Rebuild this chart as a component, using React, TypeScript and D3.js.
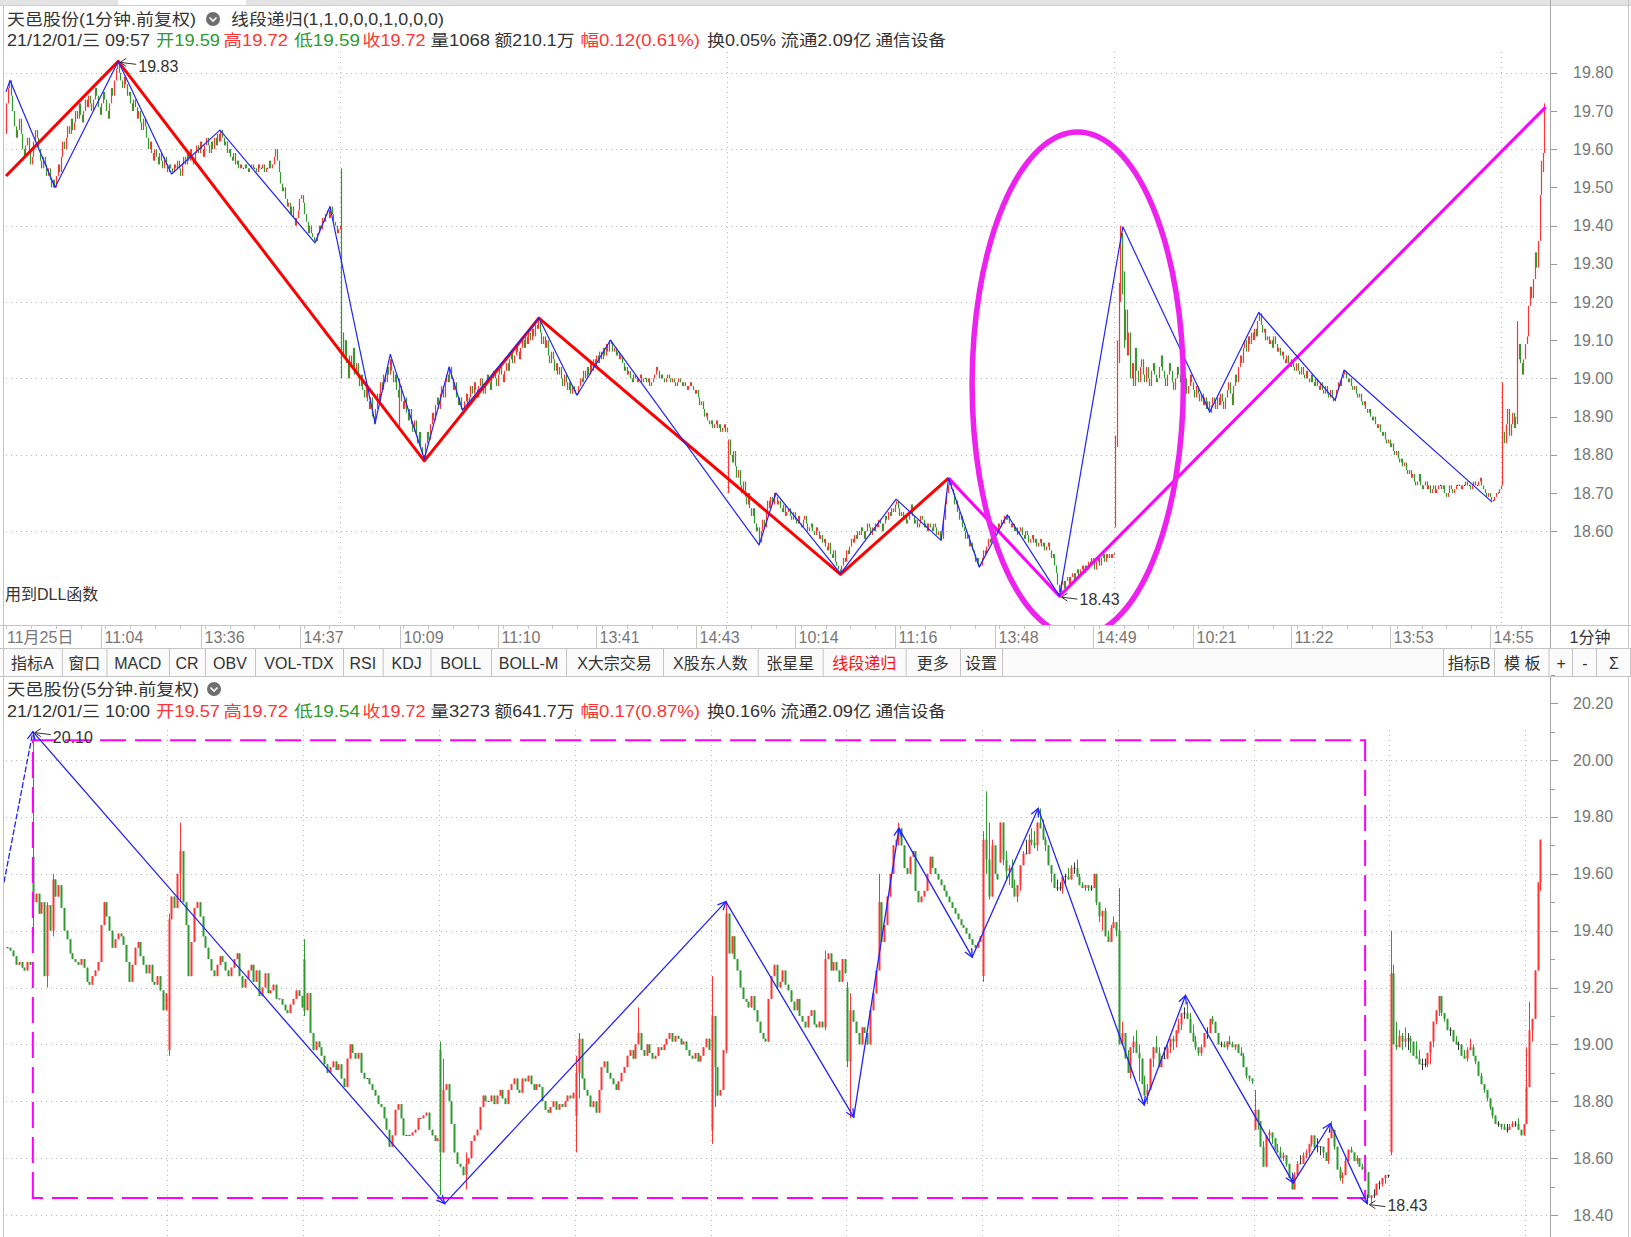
import React from 'react';
import * as d3 from 'd3';

// ===== 1-minute chart (top): closes in cents above 18.00 =====
const PRICE_BASE = 18.0;
// 11/25 from 10:03
const m1Day1 = [172,176,178,
174,170,166,163,165,168,164,160,158,161,163,159,156,158,162,165,163,160,157,155,158,156,153,155,152,150,152,150,
153,156,154,158,162,160,163,166,164,168,165,167,170,168,172,169,167,170,173,171,174,172,170,173,176,174,171,169,172,175,173,170,168,172,176,174,178,181,183,
180,178,176,179,177,174,175,172,170,173,171,168,170,167,165,168,166,163,160,162,159,157,160,158,156,159,157,155,158,156,154,156,155,154,
156,155,157,155,153,156,158,156,159,157,160,158,156,159,161,159,162,160,158,161,163,161,159,162,160,163,161,164,162,165,
163,161,162,159,160,158,157,159,156,157,155,156,155,155,156,155,154,155,156,155,155,154,156,155,155,156,154,155,155,157,155,156,158,160,157,
154,151,149,150,147,145,146,143,145,142,140,142,144,147,148,146,143,141,138,140,138,137,136,136,
138,140,139,142,141,143,144,142,145,143,141,140,138,139,140];
// 11/26
const m1Day2 = [112,106,110,104,100,106,103,108,101,104,100,98,101,97,95,98,94,92,95,90,88,
92,96,94,99,97,101,99,103,101,105,
102,99,101,97,95,98,94,92,95,91,89,92,88,86,89,85,83,86,82,80,79,
83,86,84,88,91,89,93,95,92,96,98,95,99,101,99,103,
100,97,99,95,93,95,92,92,
94,96,93,95,98,96,99,97,95,98,100,98,96,99,101,99,97,100,102,100,98,101,103,101,99,102,104,102,105,107,104,106,109,107,105,108,110,108,111,109,112,110,113,111,114,113,115,
112,109,111,108,110,106,104,107,105,102,104,101,103,100,98,101,99,97,99,96,98,97,96,96,
98,100,99,102,100,103,101,104,102,105,103,106,104,107,105,108,106,109,107,110,109,
107,108,106,107,105,106,104,102,103,101,102,100,99,101,100,99,100,101,99,100,100,99,100,98,99,100,101,103,102,100,101,100,99,100,101,100,99,100,99,98,99,100,99,98,99,98,97,98,99,98,97,96,97,95,93,94,92,90,91,89,88,89,87,88,89,87,88,86,87,88,86,87];
// 11/29
const m1Day3 = [84,80,78,81,77,74,76,72,70,73,69,67,70,66,64,66,62,60,61,57,
60,63,61,65,68,66,69,67,70,69,
67,68,66,65,67,64,65,66,64,63,65,63,62,64,62,61,63,64,62,60,61,62,60,59,61,60,58,59,57,58,56,55,57,54,53,55,52,51,50,49,
51,53,52,55,54,56,58,57,59,58,60,59,61,60,58,60,62,61,59,61,60,62,61,63,62,60,62,64,63,65,64,66,65,67,68,
66,64,65,63,64,62,63,65,67,64,62,63,61,62,64,63,61,62,60,62,61,60,62,61,59,60,58,58,
63,67,70,72,73,
71,70,67,68,65,63,64,61,60,58,59,56,57,55,54,52,53,51,51,
53,55,54,56,58,57,60,59,61,60,62,61,63,62,64,63,64,
62,61,62,60,61,59,60,61,59,58,60,59,57,58,59,57,58,56,57,58,56,57,55,56,57,55,53,54,51,49,46,44,
46,47,45,47,48,46,48,49,47,49,50,48,50,51,49,51,50,52,51,53,52,50,52,53,51,53,54,52,54,53,54,53,54,54];
// 11/30
const m1Day4 = [84,106,122,135,125,110,
118,106,112,100,104,98,108,102,99,103,
105,101,99,103,100,98,102,104,101,99,100,103,106,102,100,98,101,104,102,99,97,100,103,101,99,97,98,100,96,98,101,99,97,95,98,96,94,96,93,95,92,94,91,
93,95,94,92,95,93,96,94,92,95,97,99,96,93,98,101,99,103,106,104,108,110,107,111,109,112,110,113,111,115,117,
114,112,113,110,111,109,110,108,111,109,107,108,106,107,105,104,106,104,103,105,103,102,104,102,101,103,101,100,102,100,99,101,99,98,100,98,97,99,97,96,98,96,95,97,95,94,95,
97,99,98,100,101,102,
100,99,100,98,97,98,96,95,96,94,93,94,92,91,92,90,89,90,88,87,88,86,85,86,84,83,84,82,83,81,80,81,79,78,79,77,78,76,75,76,74,75,73,72,73,75,72,71,72,73,71,72,70,71,72,70,71,72,72,71,72,70,69,70,72,71,70,71,72,72,72,71,72,72,73,72,72,71,72,73,72,72,73,74,72,71,70,69,70,69,68,68,
69,70,70,71,72];
// 12/01 09:31-09:57
const m1Day5 = [86,83,88,92,85,88,91,87,90,105,109,104,101,105,109,111,119,124,121,126,133,129,136,148,157,159,172];
const m1FirstOpen = 164;
const m1Opens: [number, number][] = [[480, 70], [720, 62]];
const m1Wicks: [number, number, number][] = [[240,155,100],[276,100,87],[720,85,61],[721,110,82],[722,125,104],[723,140,120],[724,138,122],[725,128,108],[960,99,72],[969,115,88],[985,159,154]];

// ===== 5-minute chart (bottom): closes in cents above 18.00 =====
const m5Pre = [134,133,131,128,129,127,126,129,128];
const m5Nov16 = [150,153,146,150,124,149,140,158,152,156,148,140,137,132,130,129,128,130,127,122,121,124,126,129,142,150,145,140,134,137,139,138,135,129,122,128,134,136,131,128,125,128,122,121,124,119,112,118];
const m5Nov17 = [144,152,148,160,168,150,142,124,136,148,150,145,138,134,130,126,124,128,131,129,126,124,127,130,132,124,120,123,126,128,122,126,117,120,125,118,119,121,116,116,114,112,111,114,116,119,117,113];
const m5Nov18 = [112,118,104,98,101,99,96,93,90,92,94,91,93,88,85,95,100,97,95,97,90,88,88,86,84,82,79,78,74,70,64,68,77,79,74,68,68,68,69,70,74,74,75,76,70,68,66,67];
const m5Nov19 = [62,84,86,80,72,62,58,57,54,58,60,66,68,70,78,82,80,80,82,79,82,84,81,79,84,86,88,84,83,88,87,89,86,84,86,85,80,77,76,78,80,77,79,78,80,82,81,83];
const m5Nov22 = [90,102,88,84,82,78,80,76,84,92,94,90,88,86,84,87,90,92,96,98,95,100,104,98,96,100,97,95,96,99,98,100,102,104,101,103,102,100,101,98,96,95,97,94,96,99,102,98];
const m5Nov23 = [110,92,82,84,98,146,132,138,130,126,120,116,115,113,117,112,108,104,102,101,116,124,128,120,122,126,121,119,115,112,116,110,108,106,110,112,107,106,108,106,130,132,126,129,126,122,130,125];
const m5Nov24 = [94,112,108,104,100,106,104,100,112,118,126,150,136,142,152,160,170,172,176,170,162,160,166,168,154,150,152,154,160,166,162,160,158,156,154,152,150,148,146,144,142,141,139,137,135,134,136,138];
const m5Nov25Open = [172,165,152,170,160,158];
const m5Opens: [number, number][] = [[0,166],[48,98],[96,130],[144,98],[192,75],[240,70],[288,120],[336,124]];
const m5Wicks: [number, number, number][] = [[0,210,138],[5,150,120],[7,160,138],[48,146,96],[52,178,150],[96,137,110],[144,101,47],[145,95,70],[153,62,49],[192,96,62],[193,104,81],[214,113,100],[240,124,65],[241,110,78],[245,150,97],[280,133,105],[288,122,92],[289,118,74],[299,160,126],[306,178,170],[336,175,122],[337,189,160],[338,178,151],[339,172,152]];

// ===== zigzag indicator lines (bar index, cents) =====
const blueTop: [number, number][] = [[32,175],[34.5,178],[62.4,150],[101.6,183],[134.7,153.5],[164.7,165],[223.6,135.5],[232.9,145],[260.9,88.3],[270.3,106.3],[291.4,78.9],[306.8,103],[315,91.7],[362.5,115.8],[386.1,95.6],[406.8,110],[499,56.4],[509.4,70],[549.5,48.9],[584,68.4],[611.9,57.6],[616.5,73.9],[635.5,50.6],[652.9,64.3],[685.3,43],[724.6,139.7],[778.5,91.2],[808.9,117.3],[856.2,94.3],[861.8,102.2],[953.6,67.6]];
const redTop: [number, number][] = [[32,153],[101.6,183],[291.4,78.4],[362.5,115.8],[549.5,48.7],[616.5,73.9]];
const magentaTop: [number, number][] = [[616.5,73.9],[685.3,43],[986.8,171]];
const blueBottom: [number, number][] = [[-10.2,157],[0,210],[145.6,44],[245,150.2],[290.2,74.4],[306.2,176],[332.1,130.7],[355.4,183],[392.9,78.7],[407.5,117.2],[445.6,51.3],[458.7,72.1],[471.8,44]];
const boxBottom = { b0: 0, b1: 471, hi: 207, lo: 46 };
const ellipseTop = { g: 696.6, p: 98.5, halfBars: 65.5, halfCents: 66 };

const topTicks = [60,70,80,90,100,110,120,130,140,150,160,170,180];
const bottomTicks = [40,60,80,100,120,140,160,180,200,220];
const xLabelText = ['11:04','13:36','14:37','10:09','11:10','13:41','14:43','10:14','11:16','13:48','14:49','10:21','11:22','13:53','14:55'];
const xLabelBars = [93,155,216,278,339,400,462,523,585,647,708,770,831,892,954];
const toolLeft = ['指标A','窗口','MACD','CR','OBV','VOL-TDX','RSI','KDJ','BOLL','BOLL-M','X大宗交易','X股东人数','张星星','线段递归','更多','设置'];
const toolRight = ['指标B','模 板','+','-','Σ'];

type Bar = { i: number; o: number; h: number; l: number; c: number };

function buildBars(segs: [number, number[]][], firstOpen: number, opens: [number, number][], wicks: [number, number, number][]): Bar[] {
  const om = new Map(opens);
  const wm = new Map(wicks.map(w => [w[0], [w[1], w[2]]] as [number, number[]]));
  const out: Bar[] = [];
  let prev = firstOpen;
  for (const [start, arr] of segs) {
    arr.forEach((c, k) => {
      const i = start + k;
      const o = om.has(i) ? (om.get(i) as number) : prev;
      let h = Math.max(o, c), l = Math.min(o, c);
      const w = wm.get(i);
      if (w) { h = Math.max(h, w[0]); l = Math.min(l, w[1]); }
      out.push({ i, o, h, l, c });
      prev = c;
    });
  }
  return out;
}

const RED = '#ff3535';
const GREEN = '#2f9a2f';
const DOJI = '#333333';
const FONT = "'Liberation Sans', Arial, 'Noto Sans CJK SC', sans-serif";

export default function App() {
  const m1 = buildBars([[240 - m1Day1.length, m1Day1], [240, m1Day2], [480, m1Day3], [720, m1Day4], [960, m1Day5]], m1FirstOpen, m1Opens, m1Wicks);
  const m5a = buildBars([[-m5Pre.length, m5Pre], [0, m5Nov16], [48, m5Nov17], [96, m5Nov18], [144, m5Nov19], [192, m5Nov22], [240, m5Nov23], [288, m5Nov24], [336, m5Nov25Open]], 134, m5Opens, m5Wicks);
  // 5-minute bars from 11/25 10:05 onward are the 1-minute bars grouped by 5 minutes
  const groups = d3.groups(m1, b => 336 + Math.floor(b.i / 240) * 48 + Math.floor((b.i % 240) / 5));
  const m5b: Bar[] = groups.filter(([k]) => k >= 342).map(([k, bs]) => ({
    i: k, o: bs[0].o, c: bs[bs.length - 1].c,
    h: d3.max(bs, b => b.h) as number, l: d3.min(bs, b => b.l) as number,
  }));
  const m5 = [...m5a, ...m5b];

  const xT = d3.scaleLinear().domain([32, 987]).range([6, 1546]);
  const yT = d3.scaleLinear().domain([60, 180]).range([531.2, 72.8]);
  const xB = d3.scaleLinear().domain([0, 528]).range([32.85, 1526.35]);
  const yB = d3.scaleLinear().domain([40, 220]).range([1215, 703.2]);

  const lineT = d3.line<[number, number]>().x(d => xT(d[0])).y(d => yT(d[1]));
  const lineB = d3.line<[number, number]>().x(d => xB(d[0])).y(d => yB(d[1]));
  const col = (b: Bar) => (b.c > b.o ? RED : b.c < b.o ? GREEN : DOJI);
  const fmt = (c: number) => (PRICE_BASE + c / 100).toFixed(2);

  const arrowHeads = blueBottom.slice(1).map((p, k) => {
    const q = blueBottom[k];
    const x1 = xB(q[0]), y1 = yB(q[1]), x2 = xB(p[0]), y2 = yB(p[1]);
    const a = Math.atan2(y2 - y1, x2 - x1);
    const L = 9, s = 0.45;
    return `M${x2 - L * Math.cos(a - s)},${y2 - L * Math.sin(a - s)}L${x2},${y2}L${x2 - L * Math.cos(a + s)},${y2 - L * Math.sin(a + s)}`;
  });

  const pk = { x: xT(101.6), y: yT(183) };
  const lowT = { x: xT(685.3), y: yT(43) };
  const pkB = { x: xB(0), y: yB(210) };
  const lowB = { x: xB(471.8), y: yB(44) };
  const labelArrow = (x: number, y: number) => `M${x + 2},${y + 1}L${x + 18},${y + 3}M${x + 2},${y + 1}L${x + 8},${y - 3}M${x + 2},${y + 1}L${x + 8},${y + 5}`;

  const topSeps = [61.9, 106.5, 169, 205, 255, 343, 382.7, 430.5, 491, 566, 663, 757.7, 822.7, 905.6, 960, 1002];
  const rightSeps = [1443, 1495, 1549.5, 1573, 1597, 1631];
  const hdrX = [7, 156, 223.5, 294, 362.5, 430.5, 494.5, 580.5, 707, 780.5, 875.5];
  const hdrW = [143, 64, 64.5, 66, 63, 59.5, 80, 119.5, 69, 91, 70.5];
  const hdr2Top = [
    { t: '21/12/01/三 09:57', c: '#333' }, { t: '开19.59', c: GREEN }, { t: '高19.72', c: RED },
    { t: '低19.59', c: GREEN }, { t: '收19.72', c: RED }, { t: '量1068', c: '#333' },
    { t: '额210.1万', c: '#333' }, { t: '幅0.12(0.61%)', c: RED }, { t: '换0.05%', c: '#333' },
    { t: '流通2.09亿', c: '#333' }, { t: '通信设备', c: '#333' },
  ];
  const hdr2Bot = [
    { t: '21/12/01/三 10:00', c: '#333' }, { t: '开19.57', c: RED }, { t: '高19.72', c: RED },
    { t: '低19.54', c: GREEN }, { t: '收19.72', c: RED }, { t: '量3273', c: '#333' },
    { t: '额641.7万', c: '#333' }, { t: '幅0.17(0.87%)', c: RED }, { t: '换0.16%', c: '#333' },
    { t: '流通2.09亿', c: '#333' }, { t: '通信设备', c: '#333' },
  ];

  const circleIcon = (cx: number, cy: number) => (
    <g>
      <circle cx={cx} cy={cy} r={7} fill="#6e6e6e" />
      <path d={`M${cx - 3.5},${cy - 1.5}L${cx},${cy + 2}L${cx + 3.5},${cy - 1.5}`} stroke="#fff" strokeWidth={1.6} fill="none" />
    </g>
  );
  const hdrLine = (items: { t: string; c: string }[], y: number) => items.map((d, k) => (
    <text key={k} x={hdrX[k]} y={y} fontSize={16} fill={d.c} dominantBaseline="central" textLength={hdrW[k]} lengthAdjust="spacingAndGlyphs">{d.t}</text>
  ));

  return (
    <svg width={1631} height={1237} style={{ position: 'absolute', left: 0, top: 0, background: '#fff' }} fontFamily={FONT}>
      <defs>
        <clipPath id="clipTop"><rect x={4} y={50} width={1545} height={575} /></clipPath>
        <clipPath id="clipBot"><rect x={4} y={697} width={1545} height={540} /></clipPath>
      </defs>
      <rect width={1631} height={1237} fill="#fff" />
      {/* tab strip */}
      <rect x={0} y={0} width={1631} height={5} fill="#e3e3e3" />
      <rect x={118} y={0} width={128} height={5} fill="#fff" />
      <line x1={0} y1={5.5} x2={1631} y2={5.5} stroke="#d0d0d0" />

      {/* headers top */}
      <text x={7} y={19} fontSize={16} fill="#333" dominantBaseline="central" textLength={189} lengthAdjust="spacingAndGlyphs">天邑股份(1分钟.前复权)</text>
      {circleIcon(213, 19)}
      <text x={231} y={19} fontSize={16} fill="#333" dominantBaseline="central" textLength={213} lengthAdjust="spacingAndGlyphs">线段递归(1,1,0,0,0,1,0,0,0)</text>
      {hdrLine(hdr2Top, 40.5)}

      {/* top grid */}
      {[60, 80, 100, 120, 140, 160, 180].map(v => (
        <line key={v} x1={6} x2={1548} y1={Math.round(yT(v)) + 0.5} y2={Math.round(yT(v)) + 0.5} stroke="#b8b8b8" strokeDasharray="1 4" />
      ))}
      {[240, 480, 720, 960].map(g => (
        <line key={g} x1={Math.round(xT(g - 0.6)) + 0.5} x2={Math.round(xT(g - 0.6)) + 0.5} y1={52} y2={624} stroke="#b8b8b8" strokeDasharray="1 4" />
      ))}

      {/* top candles */}
      <g clipPath="url(#clipTop)">
        {m1.map(b => {
          const x = Math.round(xT(b.i)) + 0.5;
          const y1 = yT(b.h), y2 = yT(b.l);
          return <line key={b.i} x1={x} x2={x} y1={y1 - (y2 - y1 < 1 ? 0.6 : 0)} y2={y2 + (y2 - y1 < 1 ? 0.6 : 0)} stroke={col(b)} strokeWidth={1.2} />;
        })}
        <path d={lineT(redTop) as string} fill="none" stroke="#ff0000" strokeWidth={3} strokeLinejoin="round" />
        <path d={lineT(magentaTop) as string} fill="none" stroke="#ff00ff" strokeWidth={3} strokeLinejoin="round" />
        <path d={lineT(blueTop) as string} fill="none" stroke="#2222ff" strokeWidth={1.2} strokeLinejoin="round" />
        <ellipse cx={xT(ellipseTop.g)} cy={yT(ellipseTop.p)} rx={xT(ellipseTop.g + ellipseTop.halfBars) - xT(ellipseTop.g)} ry={yT(ellipseTop.p - ellipseTop.halfCents) - yT(ellipseTop.p)} fill="none" stroke="#ee22ee" strokeWidth={5.5} />
      </g>
      <path d={labelArrow(pk.x, pk.y)} stroke="#333" strokeWidth={1} fill="none" />
      <text x={pk.x + 20} y={pk.y + 5} fontSize={16} fill="#333" dominantBaseline="central">{fmt(183)}</text>
      <path d={labelArrow(lowT.x, lowT.y)} stroke="#333" strokeWidth={1} fill="none" />
      <text x={lowT.x + 20} y={lowT.y + 3} fontSize={16} fill="#333" dominantBaseline="central">{fmt(43)}</text>
      <text x={5} y={594} fontSize={16} fill="#333" dominantBaseline="central">用到DLL函数</text>

      {/* right axis */}
      <line x1={1550.5} x2={1550.5} y1={0} y2={1237} stroke="#a8a8a8" />
      <line x1={1628.5} x2={1628.5} y1={0} y2={1237} stroke="#c8c8c8" />
      {topTicks.map(v => (
        <g key={v}>
          <line x1={1551} x2={1557} y1={Math.round(yT(v)) + 0.5} y2={Math.round(yT(v)) + 0.5} stroke="#999" />
          <text x={1573} y={yT(v)} fontSize={16} fill="#777" dominantBaseline="central">{fmt(v)}</text>
        </g>
      ))}

      {/* x axis row */}
      <line x1={0} x2={1631} y1={625.5} y2={625.5} stroke="#c4c4c4" />
      <line x1={0} x2={1631} y1={648.5} y2={648.5} stroke="#c4c4c4" />
      <text x={7} y={637} fontSize={16} fill="#777" dominantBaseline="central">11月25日</text>
      {xLabelBars.map((g, k) => {
        const sx = Math.round(xT(g) - 3) + 0.5;
        return (
          <g key={k}>
            <line x1={sx} x2={sx} y1={626} y2={648} stroke="#c4c4c4" />
            <text x={sx + 3} y={637} fontSize={16} fill="#777" dominantBaseline="central">{xLabelText[k]}</text>
          </g>
        );
      })}
      {d3.range(32, 986, 15.4).map((g, k) => (
        <line key={k} x1={Math.round(xT(g)) + 0.5} x2={Math.round(xT(g)) + 0.5} y1={626} y2={629} stroke="#c4c4c4" />
      ))}
      <text x={1590} y={637} fontSize={16} fill="#333" textAnchor="middle" dominantBaseline="central">1分钟</text>

      {/* toolbar */}
      <rect x={0} y={649} width={1631} height={27} fill="#fbfbfb" />
      <line x1={0} x2={1631} y1={676.5} y2={676.5} stroke="#c4c4c4" />
      {toolLeft.map((t, k) => {
        const x0 = k === 0 ? 3 : topSeps[k - 1];
        const x1 = topSeps[k];
        return (
          <g key={t}>
            <line x1={x1 + 0.5} x2={x1 + 0.5} y1={649} y2={676} stroke="#c4c4c4" />
            <text x={(x0 + x1) / 2} y={663} fontSize={16} fill={t === '线段递归' ? '#ff1010' : '#333'} textAnchor="middle" dominantBaseline="central">{t}</text>
          </g>
        );
      })}
      <line x1={1443.5} x2={1443.5} y1={649} y2={676} stroke="#c4c4c4" />
      {toolRight.map((t, k) => {
        const x0 = rightSeps[k], x1 = rightSeps[k + 1];
        return (
          <g key={t}>
            <line x1={x1 - 0.5} x2={x1 - 0.5} y1={649} y2={676} stroke="#c4c4c4" />
            <text x={(x0 + x1) / 2} y={663} fontSize={16} fill="#333" textAnchor="middle" dominantBaseline="central">{t}</text>
          </g>
        );
      })}

      {/* headers bottom */}
      <text x={7} y={689} fontSize={16} fill="#333" dominantBaseline="central" textLength={192} lengthAdjust="spacingAndGlyphs">天邑股份(5分钟.前复权)</text>
      {circleIcon(214, 689)}
      {hdrLine(hdr2Bot, 711)}

      {/* bottom grid */}
      {[40, 60, 80, 100, 120, 140, 160, 180, 200].map(v => (
        <line key={v} x1={6} x2={1548} y1={Math.round(yB(v)) + 0.5} y2={Math.round(yB(v)) + 0.5} stroke="#b8b8b8" strokeDasharray="1 4" />
      ))}
      {d3.range(1, 12).map(k => (
        <line key={k} x1={Math.round(xB(48 * k - 0.4)) + 0.5} x2={Math.round(xB(48 * k - 0.4)) + 0.5} y1={730} y2={1236} stroke="#b8b8b8" strokeDasharray="1 4" />
      ))}
      {bottomTicks.map(v => (
        <g key={v}>
          <line x1={1551} x2={1558} y1={Math.round(yB(v)) + 0.5} y2={Math.round(yB(v)) + 0.5} stroke="#999" />
          <line x1={1551} x2={1555} y1={Math.round(yB(v + 10)) + 0.5} y2={Math.round(yB(v + 10)) + 0.5} stroke="#999" />
          <text x={1573} y={yB(v)} fontSize={16} fill="#777" dominantBaseline="central">{fmt(v)}</text>
        </g>
      ))}

      {/* bottom candles */}
      <g clipPath="url(#clipBot)">
        {m5.map(b => {
          const x = xB(b.i);
          const xr = Math.round(x) + 0.5;
          const top = yB(Math.max(b.o, b.c)), bot = yB(Math.min(b.o, b.c));
          const c = col(b);
          return (
            <g key={b.i}>
              <line x1={xr} x2={xr} y1={yB(b.h)} y2={yB(b.l)} stroke={c} strokeWidth={1} />
              <rect x={Math.round(x) - 0.5} y={b.o === b.c ? top - 0.5 : top} width={2} height={Math.max(1, bot - top)} fill={c} />
            </g>
          );
        })}
        <path d={`M${xB(boxBottom.b0)},${yB(boxBottom.lo)}V${yB(boxBottom.hi)}H${xB(boxBottom.b1)}V${yB(boxBottom.lo)}Z`} fill="none" stroke="#ff00ff" strokeWidth={2} strokeDasharray="26 9" />
        <path d={lineB(blueBottom.slice(0, 2)) as string} fill="none" stroke="#2222ff" strokeWidth={1.3} strokeDasharray="6 2" />
        <path d={lineB(blueBottom.slice(1)) as string} fill="none" stroke="#2222ff" strokeWidth={1.3} strokeLinejoin="round" />
        {arrowHeads.map((d, k) => <path key={k} d={d} fill="none" stroke="#2222ff" strokeWidth={1.3} />)}
      </g>
      <path d={labelArrow(pkB.x, pkB.y)} stroke="#333" strokeWidth={1} fill="none" />
      <text x={pkB.x + 20} y={pkB.y + 6} fontSize={16} fill="#333" dominantBaseline="central">{fmt(210)}</text>
      <path d={labelArrow(lowB.x, lowB.y)} stroke="#333" strokeWidth={1} fill="none" />
      <text x={lowB.x + 20} y={lowB.y + 2} fontSize={16} fill="#333" dominantBaseline="central">{fmt(43)}</text>

      <line x1={3.5} x2={3.5} y1={6} y2={1237} stroke="#c4c4c4" />
    </svg>
  );
}
